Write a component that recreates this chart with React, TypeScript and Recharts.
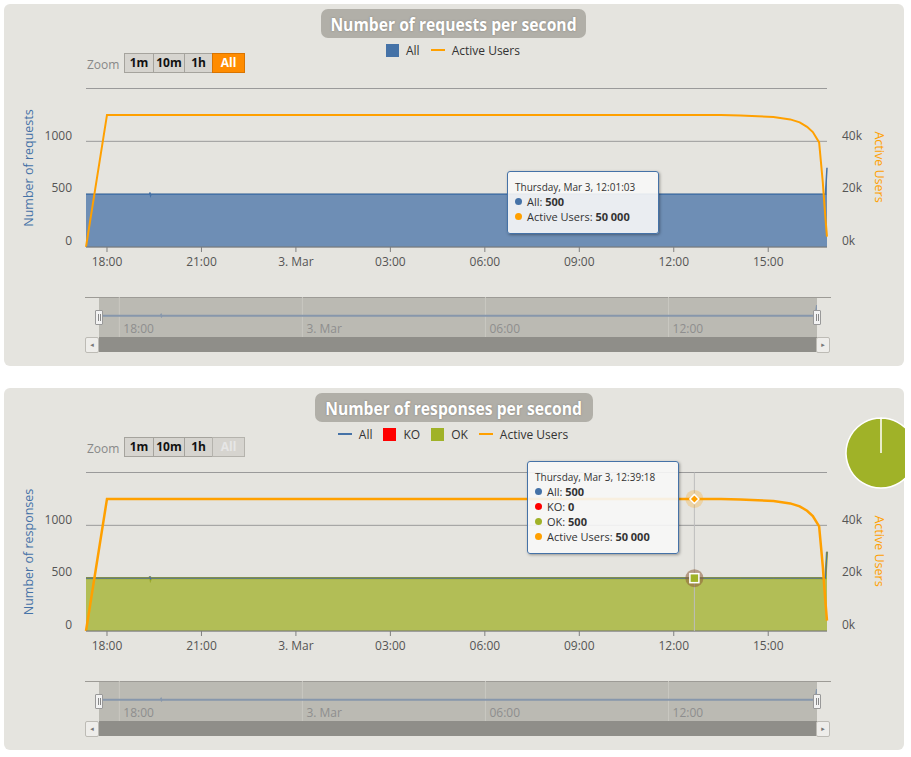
import React from 'react';
import {
  ComposedChart, LineChart, Line, Area, XAxis, YAxis, CartesianGrid, Tooltip,
  ReferenceLine, PieChart, Pie, Cell,
} from 'recharts';

// ---------- data (time = minutes since Mar 2, 00:00) ----------
const times = [1040, 1080, 1161, 1162, 1163, 1164, 1440, 1800, 2161.05, 2199.3, 2250, 2287, 2320, 2350, 2382, 2400, 2414, 2425, 2437, 2441, 2444, 2445, 2449, 2452];
const requestsAll = [500, 500, 500, 515, 488, 500, 500, 500, 500, 500, 500, 500, 500, 500, 500, 500, 500, 500, 500, 500, 500, 500, 500, 750];
const responsesOK = [500, 500, 500, 515, 488, 500, 500, 500, 500, 500, 500, 500, 500, 500, 500, 500, 500, 500, 500, 500, 496, 500, 500, 750];
const responsesKO = [0, 0, 0, 0, 0, 0, 0, 0, 0, 0, 0, 0, 0, 0, 0, 0, 0, 0, 0, 0, 4, 0, 0, 0];
const activeUsers = [0, 50000, 50000, 50000, 50000, 50000, 50000, 50000, 50000, 50000, 49950, 49800, 49500, 49200, 48300, 47200, 45500, 43500, 39600, 31000, 24500, 21600, 11000, 3900];

const xTickTimes = [1080, 1260, 1440, 1620, 1800, 1980, 2160, 2340];
const xTickLabels = ['18:00', '21:00', '3. Mar', '03:00', '06:00', '09:00', '12:00', '15:00'];
const navTickTimes = [1080, 1440, 1800, 2160];
const navTickLabels = ['18:00', '3. Mar', '06:00', '12:00'];
const leftTicks = [0, 500, 1000, 1500];
const rightTicks = [0, 20000, 40000, 60000];
const pieNames = ['OK', 'KO'];
const pieValues = [100, 0];

const data = times.map((t, i) => ({
  time: t,
  all: requestsAll[i],
  users: activeUsers[i],
  ok: responsesOK[i],
  ko: responsesKO[i],
  allResp: responsesOK[i] + responsesKO[i],
}));
const pieData = pieNames.map((n, i) => ({ name: n, value: pieValues[i] }));

// ---------- styles ----------
const FONT = '"Open Sans", "DejaVu Sans", sans-serif';
const BLUE = '#4572A7';
const ORANGE = '#FFA000';
const GREEN = '#A0B228';
const RED = '#FF0000';
const PANEL_BG = '#E5E4DF';
const TEXT = '#555';
const COLORS: Record<string, string> = { All: BLUE, KO: RED, OK: GREEN, 'Active Users': ORANGE };

const WEEKDAYS = ['Sunday', 'Monday', 'Tuesday', 'Wednesday', 'Thursday', 'Friday', 'Saturday'];
const pad = (n: number) => String(n).padStart(2, '0');
function fmtDate(t: number) {
  const total = Math.round(t * 60);
  const d = Math.floor(total / 86400);
  const r = total - d * 86400;
  const h = Math.floor(r / 3600);
  const m = Math.floor((r % 3600) / 60);
  const s = r % 60;
  return `${WEEKDAYS[(3 + d) % 7]}, Mar ${2 + d}, ${pad(h)}:${pad(m)}:${pad(s)}`;
}
const fmtNum = (v: number) => String(Math.round(v)).replace(/\B(?=(\d{3})+(?!\d))/g, ' ');
const xLabel = (v: number) => xTickLabels[xTickTimes.indexOf(v)] ?? '';

function TipBox(props: any) {
  const { active, payload, order } = props;
  if (!active || !payload || !payload.length) return null;
  const t = payload[0].payload.time;
  const items = order.map((n: string) => payload.find((p: any) => p.name === n)).filter(Boolean);
  return (
    <div style={{
      background: 'rgba(247,247,247,0.9)', border: `1px solid ${BLUE}`, borderRadius: 3,
      padding: '8px 8px 9px 7px', boxShadow: '1px 1px 3px rgba(0,0,0,0.35)', fontFamily: FONT,
      color: '#333', width: 135, whiteSpace: 'nowrap',
    }}>
      <div style={{ fontSize: 10, height: 14, lineHeight: '14px' }}>{fmtDate(t)}</div>
      {items.map((p: any) => (
        <div key={p.name} style={{ fontSize: 11, height: 15, lineHeight: '15px', display: 'flex', alignItems: 'center' }}>
          <span style={{ display: 'inline-block', width: 7, height: 7, borderRadius: 4, background: COLORS[p.name], marginRight: 5 }} />
          <span>{`${p.name}:\u00a0`}</span>
          <span style={{ fontWeight: 700 }}>{fmtNum(p.value)}</span>
        </div>
      ))}
    </div>
  );
}

const LeftTick = (p: any) => {
  const v = p.payload.value;
  if (v === 1500) return null;
  return <text x={72} y={p.y - 6} dy="0.35em" textAnchor="end" fill={TEXT} fontSize={12} fontFamily={FONT}>{v}</text>;
};
const RightTick = (p: any) => {
  const v = p.payload.value;
  if (v === 60000) return null;
  return <text x={842} y={p.y - 6} dy="0.35em" textAnchor="start" fill={TEXT} fontSize={12} fontFamily={FONT}>{`${v / 1000}k`}</text>;
};

const UsersDot = (p: any) => (
  <g>
    <circle cx={p.cx} cy={p.cy} r={9} fill={ORANGE} fillOpacity={0.25} />
    <path d={`M${p.cx},${p.cy - 4.5}L${p.cx + 4.5},${p.cy}L${p.cx},${p.cy + 4.5}L${p.cx - 4.5},${p.cy}Z`} fill={ORANGE} stroke="#fff" strokeWidth={1.5} />
  </g>
);
const OkDot = (p: any) => (
  <g>
    <circle cx={p.cx} cy={p.cy} r={9} fill="#8E5E3A" fillOpacity={0.55} />
    <rect x={p.cx - 4.5} y={p.cy - 4.5} width={9} height={9} fill={GREEN} stroke="#fff" strokeWidth={1.5} />
  </g>
);

function MainChart({ kind, top }: { kind: 'req' | 'resp'; top: number }) {
  const isReq = kind === 'req';
  return (
    <div style={{ position: 'absolute', left: 0, top }}>
      <ComposedChart width={911} height={224} data={data} margin={{ top: 32.5, right: 34, bottom: 0, left: 36 }}>
        <CartesianGrid yAxisId="left" vertical={false} stroke="#9a9a9a" />
        <XAxis dataKey="time" type="number" domain={[1040, 2452]} ticks={xTickTimes} tickFormatter={xLabel}
          height={33} stroke="#7f7f7f" tickSize={5} tickMargin={5} interval={0}
          tick={{ fill: TEXT, fontSize: 12, fontFamily: FONT }} />
        <YAxis yAxisId="left" width={50} domain={[0, 1500]} ticks={leftTicks} axisLine={false} tickLine={false}
          tick={LeftTick} allowDataOverflow
          label={() => (
            <text transform={`translate(28, 112) rotate(-90)`} textAnchor="middle" dominantBaseline="central"
              fill={BLUE} fontSize={12.5} fontFamily={FONT}>{isReq ? 'Number of requests' : 'Number of responses'}</text>
          )} />
        <YAxis yAxisId="right" orientation="right" width={50} domain={[0, 60000]} ticks={rightTicks}
          axisLine={false} tickLine={false} tick={RightTick} allowDataOverflow
          label={() => (
            <text transform={`translate(879, 111) rotate(90)`} textAnchor="middle" dominantBaseline="central"
              fill={ORANGE} fontSize={12.5} fontFamily={FONT}>Active Users</text>
          )} />
        {isReq ? (
          <Area yAxisId="left" type="linear" dataKey="all" name="All" stroke={BLUE} strokeWidth={1.5}
            fill={BLUE} fillOpacity={0.75} isAnimationActive={false} activeDot={false} />
        ) : null}
        {!isReq ? (
          <Line yAxisId="left" type="linear" dataKey="allResp" name="All" stroke={BLUE} strokeWidth={1}
            dot={false} isAnimationActive={false} activeDot={false} />
        ) : null}
        {!isReq ? (
          <Area yAxisId="left" type="linear" dataKey="ok" name="OK" stackId="s" stroke="#98A82A" strokeWidth={2.2}
            fill={GREEN} fillOpacity={0.75} isAnimationActive={false} activeDot={OkDot} />
        ) : null}
        {!isReq ? (
          <Area yAxisId="left" type="linear" dataKey="ko" name="KO" stackId="s" stroke={RED} strokeOpacity={0.2}
            strokeWidth={1} fill={RED} fillOpacity={0.75} isAnimationActive={false} activeDot={false} />
        ) : null}
        <Line yAxisId="right" type="linear" dataKey="users" name="Active Users" stroke={ORANGE}
          strokeWidth={isReq ? 2 : 2.5} dot={false} isAnimationActive={false}
          activeDot={isReq ? false : UsersDot} />
        <Tooltip
          defaultIndex={isReq ? 8 : 9}
          active
          isAnimationActive={false}
          position={isReq ? { x: 507, y: 115 } : { x: 527, y: 21 }}
          cursor={isReq ? false : { stroke: '#bdbdbd', strokeWidth: 1 }}
          wrapperStyle={{ outline: 'none', zIndex: 5 }}
          content={(p: any) => <TipBox {...p} order={isReq ? ['All', 'Active Users'] : ['All', 'KO', 'OK', 'Active Users']} />}
        />
      </ComposedChart>
    </div>
  );
}

function Navigator({ o, dataKey }: { o: number; dataKey: string }) {
  const handle = (left: number) => (
    <div style={{
      position: 'absolute', left, top: 310 + o, width: 6, height: 13, background: '#f2f2f2',
      border: '1px solid #999', borderRadius: 1,
    }}>
      <div style={{ position: 'absolute', left: 1.5, top: 3, width: 1, height: 7, background: '#888' }} />
      <div style={{ position: 'absolute', left: 3.5, top: 3, width: 1, height: 7, background: '#888' }} />
    </div>
  );
  const btn = (left: number, arrow: string) => (
    <div style={{
      position: 'absolute', left, top: 337 + o, width: 12, height: 14, background: '#EEEDEA',
      border: '1px solid #BDBBB5', borderRadius: 2, fontSize: 7, color: '#777', textAlign: 'center',
      lineHeight: '14px', fontFamily: FONT,
    }}>{arrow}</div>
  );
  return (
    <>
      <div style={{ position: 'absolute', left: 85, top: 297 + o, width: 746, height: 1, background: '#9d9b96' }} />
      <div style={{ position: 'absolute', left: 99, top: 298 + o, width: 718, height: 39, background: '#BBBAB3' }} />
      <div style={{ position: 'absolute', left: 99, top: 297 + o }}>
        <LineChart width={718} height={40} data={data} margin={{ top: 0, right: 0, bottom: 0, left: 0 }}>
          <XAxis dataKey="time" type="number" domain={[1040, 2452]} hide />
          <YAxis domain={[0, 938]} hide />
          {navTickTimes.map((t, i) => (
            <ReferenceLine key={t} x={t} stroke="#C9C8C1" strokeWidth={1}
              label={{ value: navTickLabels[i], position: 'insideBottomLeft', offset: 4, fill: '#8e8e8e', fontSize: 12, fontFamily: FONT }} />
          ))}
          <Line type="linear" dataKey={dataKey} stroke="#8797AC" strokeWidth={2} dot={false} isAnimationActive={false} activeDot={false} />
        </LineChart>
      </div>
      <div style={{ position: 'absolute', left: 99, top: 337 + o, width: 718, height: 15, background: '#8F8E89' }} />
      {btn(85, '◂')}
      {btn(816, '▸')}
      {handle(95)}
      {handle(813)}
    </>
  );
}

function ZoomBar({ o, allActive }: { o: number; allActive: boolean }) {
  const base: React.CSSProperties = {
    position: 'absolute', top: 53 + o, height: 18, border: '1px solid #A5A39D', background: '#D6D4CF',
    fontFamily: FONT, fontSize: 12, fontWeight: 700, textAlign: 'center', lineHeight: '18px', color: '#111',
  };
  return (
    <>
      <div style={{ position: 'absolute', left: 87, top: 56 + o, fontFamily: FONT, fontSize: 12, color: '#888' }}>Zoom</div>
      <div style={{ ...base, left: 124, width: 28 }}>1m</div>
      <div style={{ ...base, left: 153, width: 30 }}>10m</div>
      <div style={{ ...base, left: 184, width: 27 }}>1h</div>
      <div style={{
        ...base, left: 212, width: 31,
        ...(allActive
          ? { background: '#FF8C00', borderColor: '#D97400', color: '#fff' }
          : { color: '#E6E6E6', borderColor: '#B5B3AD' }),
      }}>All</div>
    </>
  );
}

function Legend({ o, items }: { o: number; items: { type: 'square' | 'line'; color: string; label: string }[] }) {
  return (
    <div style={{
      position: 'absolute', left: 0, top: 43 + o, width: 906, height: 14, display: 'flex',
      justifyContent: 'center', alignItems: 'center', gap: 11, fontFamily: FONT, fontSize: 12, color: '#333',
    }}>
      {items.map((it) => (
        <div key={it.label} style={{ display: 'flex', alignItems: 'center', gap: 7 }}>
          {it.type === 'square'
            ? <div style={{ width: 13, height: 13, background: it.color }} />
            : <div style={{ width: 14, height: 2, background: it.color }} />}
          <span>{it.label}</span>
        </div>
      ))}
    </div>
  );
}

function Title({ o, text, width }: { o: number; text: string; width: number }) {
  return (
    <div style={{
      position: 'absolute', left: 453.5 - width / 2, top: 9 + o, width, height: 29, background: '#B1AFA8',
      borderRadius: 7, display: 'flex', alignItems: 'center', justifyContent: 'center', overflow: 'hidden',
    }}>
      <span style={{
        display: 'inline-block', fontFamily: FONT, fontWeight: 700, fontSize: 18, color: '#fff',
        textShadow: '0 0 2px #7d7b75', transform: 'scaleX(0.87)', whiteSpace: 'nowrap',
      }}>{text}</span>
    </div>
  );
}

export default function App() {
  return (
    <div style={{ position: 'absolute', left: 0, top: 0, width: 911, height: 757, background: '#fff', overflow: 'hidden' }}>
      <div style={{ position: 'absolute', left: 4, top: 4, width: 900, height: 362, background: PANEL_BG, borderRadius: 6 }} />
      <div style={{ position: 'absolute', left: 4, top: 388, width: 900, height: 362, background: PANEL_BG, borderRadius: 6 }} />

      <Navigator o={0} dataKey="all" />
      <Navigator o={384} dataKey="allResp" />

      <ZoomBar o={0} allActive />
      <ZoomBar o={384} allActive={false} />

      <Title o={0} text="Number of requests per second" width={265} />
      <Title o={384} text="Number of responses per second" width={278} />

      <Legend o={0} items={[
        { type: 'square', color: BLUE, label: 'All' },
        { type: 'line', color: ORANGE, label: 'Active Users' },
      ]} />
      <Legend o={384} items={[
        { type: 'line', color: BLUE, label: 'All' },
        { type: 'square', color: RED, label: 'KO' },
        { type: 'square', color: GREEN, label: 'OK' },
        { type: 'line', color: ORANGE, label: 'Active Users' },
      ]} />

      <MainChart kind="req" top={56} />
      <MainChart kind="resp" top={440} />

      <div style={{ position: 'absolute', left: 845, top: 417, width: 60, height: 72, overflow: 'hidden' }}>
        <PieChart width={74} height={72} margin={{ top: 0, right: 0, bottom: 0, left: 0 }}>
          <Pie data={pieData} dataKey="value" nameKey="name" cx={36} cy={36} outerRadius={35}
            startAngle={90} endAngle={-270} stroke="#fff" strokeWidth={1.5} isAnimationActive={false}>
            {pieData.map((d) => <Cell key={d.name} fill={d.name === 'OK' ? GREEN : RED} />)}
          </Pie>
        </PieChart>
      </div>
    </div>
  );
}
